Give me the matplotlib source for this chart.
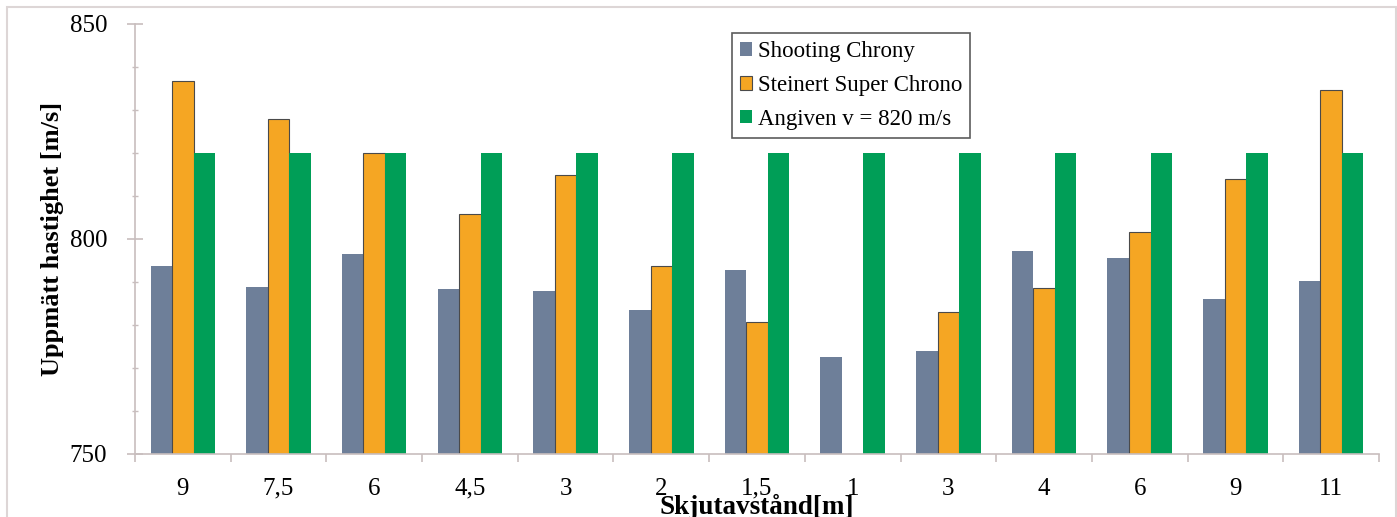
import matplotlib
matplotlib.use("Agg")
import matplotlib.pyplot as plt
import numpy as np
from matplotlib.patches import Rectangle
from matplotlib.ticker import MultipleLocator, FixedLocator

categories = ["9", "7,5", "6", "4,5", "3", "2", "1,5", "1", "3", "4", "6", "9", "11"]
shooting_chrony = [793.7, 788.8, 796.4, 788.4, 787.9, 783.5, 792.8, 772.6, 774.0, 797.3, 795.5, 786.1, 790.2]
steinert = [836.8, 827.8, 819.9, 805.8, 814.9, 793.7, 780.7, 750.0, 783.0, 788.7, 801.7, 814.0, 834.6]
angiven = [820] * 13
series_names = ["Shooting Chrony", "Steinert Super Chrono", "Angiven v = 820 m/s"]

plt.rcParams['font.family'] = ['Liberation Serif', 'DejaVu Serif']

fig = plt.figure(figsize=(13.97, 5.17), dpi=100)
ax = fig.add_axes([0.0966, 0.1219, 0.8905, 0.8317])

x = np.arange(len(categories))
w = 0.225
c_gray = '#6E7F99'
c_orange = '#F5A623'
c_green = '#009E57'
ax.bar(x - w, np.array(shooting_chrony) - 750, w, bottom=750, color=c_gray, label=series_names[0])
ax.bar(x, np.array(steinert) - 750, w, bottom=750, color=c_orange, edgecolor='#4a4a4a', linewidth=0.8, label=series_names[1])
ax.bar(x + w, np.array(angiven) - 750, w, bottom=750, color=c_green, label=series_names[2])

ax.set_xlim(-0.5, len(categories) - 0.5)
ax.set_ylim(750, 850)
ax.yaxis.set_major_locator(FixedLocator([750, 800, 850]))
ax.yaxis.set_minor_locator(MultipleLocator(10))

ax.xaxis.set_major_locator(FixedLocator(np.arange(-0.5, len(categories), 1.0)))
ax.xaxis.set_minor_locator(FixedLocator(x))
ax.set_xticklabels([])
ax.set_xticklabels(categories, minor=True)
ax.tick_params(axis='x', which='minor', length=0, pad=17, labelsize=18)
ax.tick_params(axis='x', which='major', length=6, direction='out', color='#C8BEBE', width=1.2)
ax.tick_params(axis='y', which='major', length=12, direction='inout', color='#C8BEBE', width=1.2, labelsize=18, pad=14)
ax.tick_params(axis='y', which='minor', length=5, direction='inout', color='#C8BEBE', width=1.0)

for s in ['top', 'right']:
    ax.spines[s].set_visible(False)
for s in ['left', 'bottom']:
    ax.spines[s].set_color('#C8BEBE')
    ax.spines[s].set_linewidth(1.2)

ax.set_ylabel("Uppmätt hastighet [m/s]", fontsize=19, fontweight='bold', labelpad=4)
ax.set_xlabel("Skjutavstånd[m]", fontsize=19.5, fontweight='bold', labelpad=-4)

leg = ax.legend(loc='upper left', bbox_to_anchor=(0.4705, 1.005), fontsize=16.5,
                frameon=True, fancybox=False, edgecolor='#333333', handlelength=0.55,
                handleheight=0.55, handletextpad=0.25, borderpad=0.35, labelspacing=0.55)
leg.get_frame().set_linewidth(1.2)

fig.patches.append(Rectangle((0.005, -0.01), 0.994, 0.997, transform=fig.transFigure,
                             fill=False, edgecolor='#DDD6D6', linewidth=1.5))

fig.savefig("out.png", dpi=100)
